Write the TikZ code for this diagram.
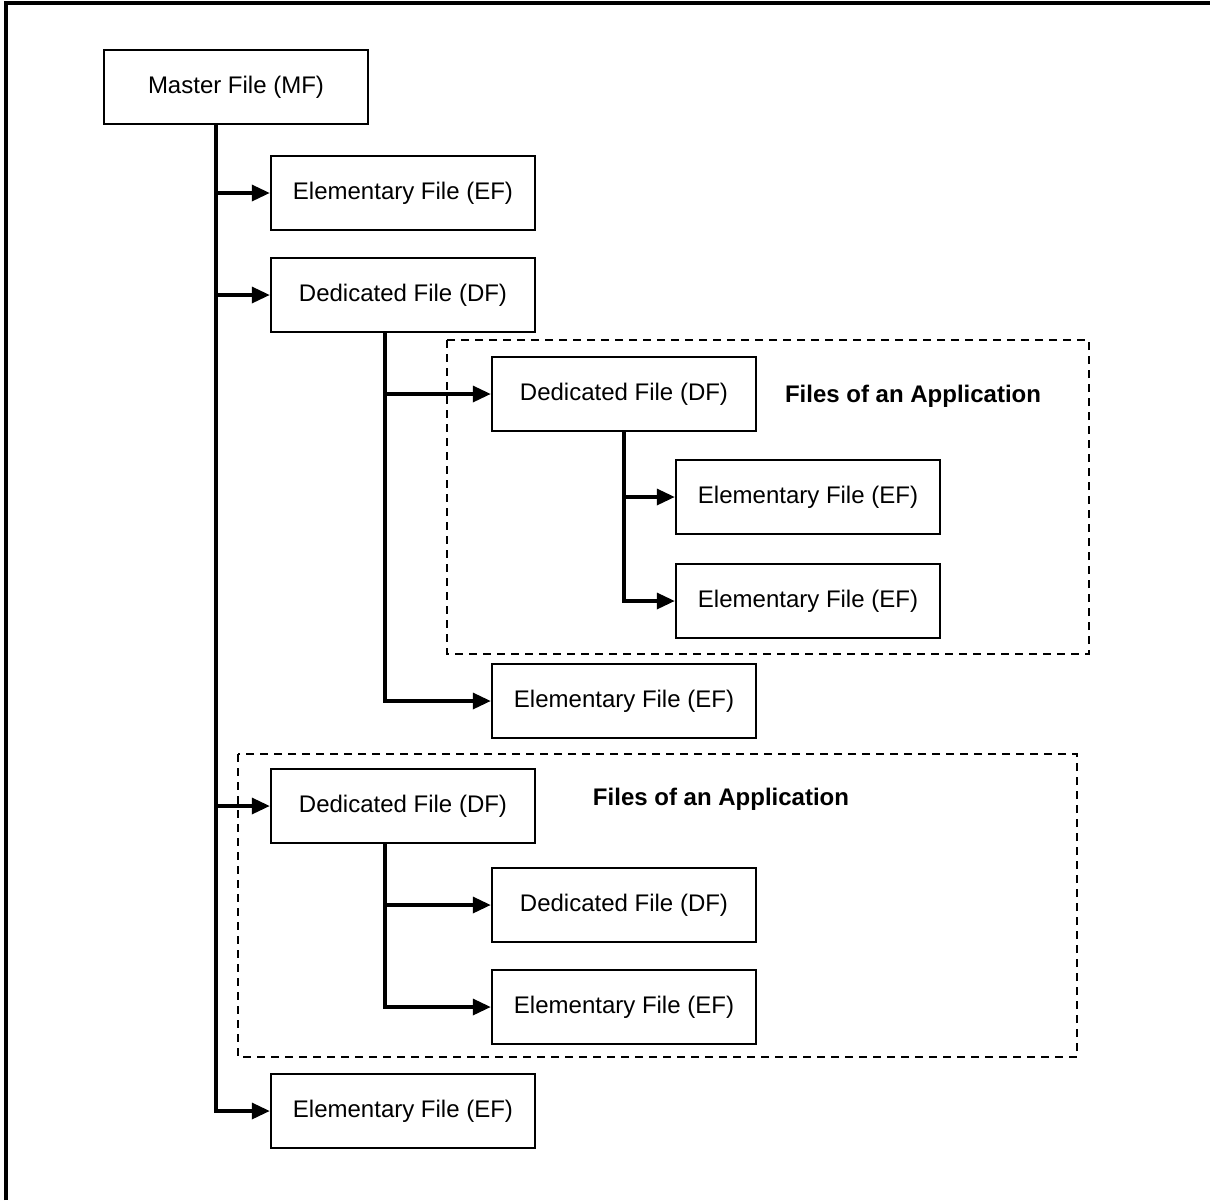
\documentclass[tikz,border=0pt]{standalone}
\usepackage{fontspec}
\setmainfont{Liberation Sans}
\usetikzlibrary{arrows.meta}

\begin{document}
\begin{tikzpicture}[x=0.5pt, y=-0.5pt,
  filebox/.style={rectangle, draw, line width=1.2pt, minimum width=132pt,
                  minimum height=37pt, inner sep=0pt, font=\fontsize{12}{14}\selectfont},
  arrow/.style={-{Triangle[length=9pt, width=8pt]}, line width=1.7pt},
  groupframe/.style={draw, dash pattern=on 4pt off 3pt, line width=1pt},
  grouplbl/.style={font=\fontsize{12}{14}\selectfont\bfseries}
]
  \useasboundingbox (0,0) rectangle (1210,1200);
  \draw[line width=1.6pt] (6,1200) -- (6,3) -- (1210,3);

  % application groups
  \draw[groupframe] (447,340) rectangle (1089,654);
  \draw[groupframe] (238,754) rectangle (1077,1057);
  \node[grouplbl] (app1) at (913,396) {Files of an Application};
  \node[grouplbl] (app2) at (721,799) {Files of an Application};

  % files
  \node[filebox] (mf) at (236,87) {Master File (MF)};
  \node[filebox] (ef1) at (403,193) {Elementary File (EF)};
  \node[filebox] (df1) at (403,295) {Dedicated File (DF)};
  \node[filebox] (df2) at (624,394) {Dedicated File (DF)};
  \node[filebox] (ef2) at (808,497) {Elementary File (EF)};
  \node[filebox] (ef3) at (808,601) {Elementary File (EF)};
  \node[filebox] (ef4) at (624,701) {Elementary File (EF)};
  \node[filebox] (df3) at (403,806) {Dedicated File (DF)};
  \node[filebox] (df4) at (624,905) {Dedicated File (DF)};
  \node[filebox] (ef5) at (624,1007) {Elementary File (EF)};
  \node[filebox] (ef6) at (403,1111) {Elementary File (EF)};

  % tree
  \draw[arrow] ([xshift=-10pt]mf.south) |- (ef1.west);
  \draw[arrow] ([xshift=-10pt]mf.south) |- (df1.west);
  \draw[arrow] ([xshift=-10pt]mf.south) |- (df3.west);
  \draw[arrow] ([xshift=-10pt]mf.south) |- (ef6.west);
  \draw[arrow] ([xshift=-9pt]df1.south) |- (df2.west);
  \draw[arrow] ([xshift=-9pt]df1.south) |- (ef4.west);
  \draw[arrow] (df2.south) |- (ef2.west);
  \draw[arrow] (df2.south) |- (ef3.west);
  \draw[arrow] ([xshift=-9pt]df3.south) |- (df4.west);
  \draw[arrow] ([xshift=-9pt]df3.south) |- (ef5.west);
\end{tikzpicture}
\end{document}
